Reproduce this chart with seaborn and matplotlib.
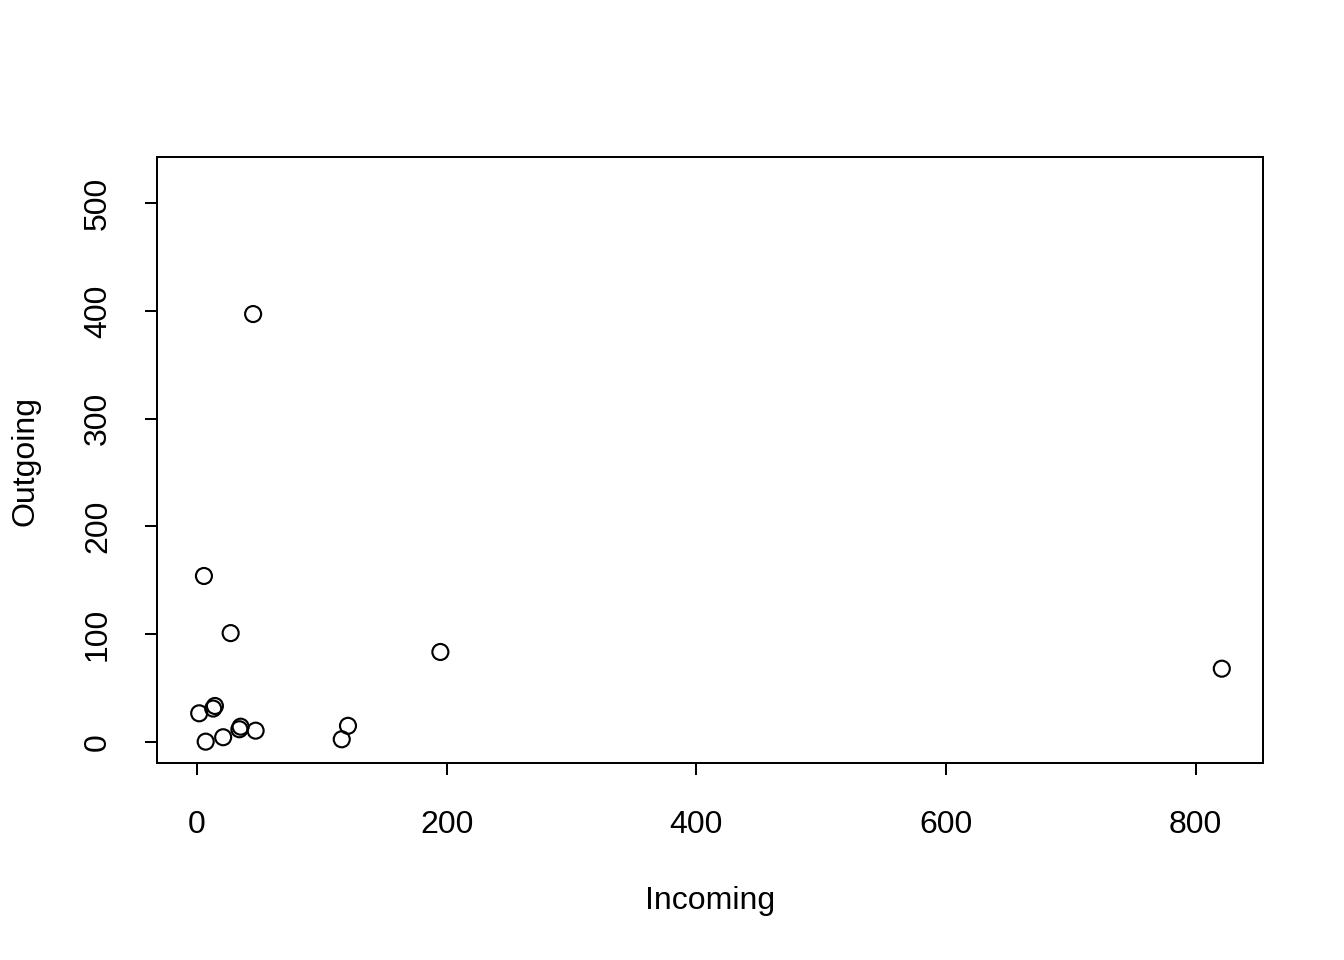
import matplotlib
matplotlib.use("Agg")
import matplotlib.pyplot as plt
import seaborn as sns
import pandas as pd

# data
incoming = [1.8, 13, 14.4, 7, 21, 34, 35, 47, 121, 116, 5.6, 27, 45, 195, 821]
outgoing = [26.6, 31, 33.4, 0.3, 4.4, 11.8, 14.2, 10.5, 15, 2.5, 154, 101, 397, 83.5, 68]
x_ticks = [0, 200, 400, 600, 800]
y_ticks = [0, 100, 200, 300, 400, 500]

df = pd.DataFrame({"Incoming": incoming, "Outgoing": outgoing})

sns.set_style("white")
plt.rcParams["font.family"] = ["Liberation Sans", "DejaVu Sans"]
plt.rcParams["text.color"] = "black"

fig = plt.figure(figsize=(7, 5), dpi=192)
ax = fig.add_axes([157 / 1344, 1 - 763 / 960, (1263 - 157) / 1344, (763 - 157) / 960])

sns.scatterplot(
    data=df,
    x="Incoming",
    y="Outgoing",
    marker="o",
    s=36,
    facecolor="none",
    edgecolor="black",
    linewidth=0.8,
    ax=ax,
)

ax.set_xlim(-32, 854)
ax.set_ylim(-19.5, 542.7)
ax.set_xticks(x_ticks)
ax.set_yticks(y_ticks)
ax.set_yticklabels([str(v) for v in y_ticks], rotation=90, va="center")

for sp in ax.spines.values():
    sp.set_color("black")
    sp.set_linewidth(0.75)

ax.tick_params(axis="both", direction="out", length=4.5, width=0.75,
               colors="black", labelsize=12, bottom=True, left=True)
ax.tick_params(axis="x", pad=13)
ax.tick_params(axis="y", pad=12)

ax.set_xlabel("")
ax.set_ylabel("")
fig.text(710 / 1344, 1 - 901 / 960, "Incoming", ha="center", va="center",
         fontsize=12, color="black")
fig.text(25 / 1344, 1 - 461 / 960, "Outgoing", ha="center", va="center",
         rotation=90, fontsize=12, color="black")

fig.savefig("out.png", dpi=192)
